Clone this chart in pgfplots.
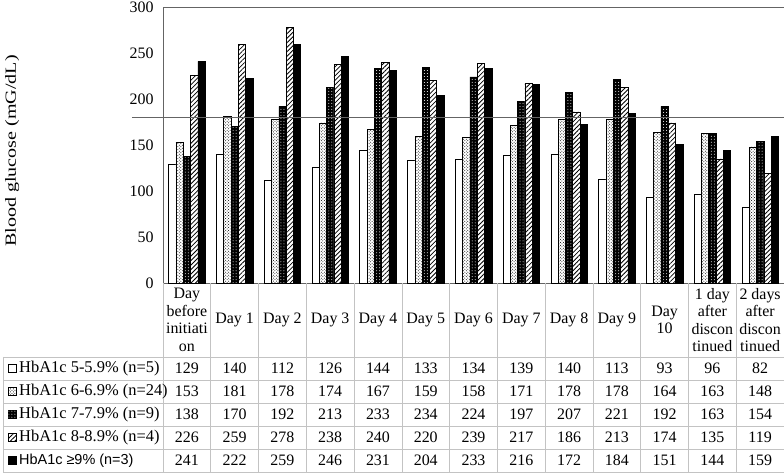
\documentclass[border=0pt]{standalone}
\usepackage{pgfplots}
\pgfplotsset{compat=1.18}
\usepackage{pgfplotstable}
\usetikzlibrary{patterns,patterns.meta}
\usepackage{fontspec}
\setmainfont{Liberation Serif}
\newfontfamily\arialf{Liberation Sans}
\definecolor{tblgray}{RGB}{195,195,195}
\definecolor{axgray}{RGB}{100,100,100}

\pgfplotstableread{
x a b c d e
0 129 153 138 226 241
1 140 181 170 259 222
2 112 178 192 278 259
3 126 174 213 238 246
4 144 167 233 240 231
5 133 159 234 220 204
6 134 158 224 239 233
7 139 171 197 217 216
8 140 178 207 186 172
9 113 178 221 213 184
10 93 164 192 174 151
11 96 163 163 135 144
12 82 148 154 119 159
}\glucose

\tikzset{
 s1/.style={draw=black, line width=0.5pt, fill=white},
 s2/.style={draw=black, line width=0.5pt, fill=white, postaction={pattern=crosshatch dots}},
 s3/.style={draw=black, line width=0.5pt, fill=black, postaction={pattern=dots, pattern color=white}},
 s4/.style={draw=black, line width=0.5pt, fill=white, postaction={pattern={Lines[angle=45, distance=3.2pt, line width=0.8pt]}}},
 s5/.style={draw=black, line width=0.5pt, fill=black},
}

\begin{document}
\begin{tikzpicture}[x=1bp,y=1bp,font=\fontsize{16}{17.5}\selectfont]
\useasboundingbox (0,0) rectangle (784,474);
\begin{axis}[
 at={(163bp,191bp)}, anchor=south west,
 scale only axis, width=621bp, height=276bp,
 xmin=-0.5, xmax=12.5, ymin=0, ymax=300,
 ytick={0,50,...,300},
 xtick=\empty,
 minor xtick={0.5,1.5,...,11.5},
 xminorgrids, minor grid style={axgray, line width=0.6pt},
 major tick length=0pt, minor tick length=0pt,
 axis line style={axgray, line width=0.8pt},
 bar width=0.153,
 clip=false,
 /pgf/number format/assume math mode=true,
 ticklabel style={font=\fontsize{16}{17.5}\selectfont},
 yticklabel style={xshift=-6bp},
 ylabel={\scalebox{1.3}[1]{Blood glucose (mG/dL)}},
 every axis y label/.style={at={(axis description cs:-0.243,0.478)}, rotate=90, anchor=center, font=\fontsize{15.5}{18}\selectfont},
]
\addplot[s1, ybar, bar shift=-0.306] table[x=x,y=a]{\glucose};
\addplot[s2, ybar, bar shift=-0.153] table[x=x,y=b]{\glucose};
\addplot[s3, ybar, bar shift=0] table[x=x,y=c]{\glucose};
\addplot[s4, ybar, bar shift=0.153] table[x=x,y=d]{\glucose};
\addplot[s5, ybar, bar shift=0.306] table[x=x,y=e]{\glucose};
\addplot[sharp plot, axgray, line width=0.8pt, mark=none] coordinates {(-1.15,180) (12.5,180)};
\end{axis}
% table grid
\begin{scope}[tblgray, line width=0.6pt]
\foreach \yy in {117,94,71,48,25,2} { \draw (3,\yy) -- (784,\yy); }
\foreach \k in {1,...,13} { \draw ({163+47.769*\k},191) -- ({163+47.769*\k},2); }
\draw (163,191) -- (163,2);
\draw (3,117) -- (3,2);
\end{scope}
% header
\foreach \lab [count=\i from 0] in {Day\\before\\initiati\\on, Day 1, Day 2, Day 3, Day 4, Day 5, Day 6, Day 7, Day 8, Day 9, Day\\10, 1 day\\after\\discon\\tinued, 2 days\\after\\discon\\tinued} {
  \node[align=center, inner sep=0pt] at ({163+47.769*(\i+0.5)},154) {\lab};
}
% values
\foreach \c/\r in {a/105.5, b/82.5, c/59.5, d/36.5, e/13.5} {
  \foreach \i in {0,...,12} {
    \pgfplotstablegetelem{\i}{\c}\of\glucose
    \node[inner sep=0pt] at ({163+47.769*(\i+0.5)},\r) {\pgfplotsretval};
  }
}
% row labels
\begin{scope}[font=\fontsize{16.5}{18}\selectfont]
\draw[s1] (8.5,101.5) rectangle (16.5,109.5);
\node[anchor=west, inner sep=0pt] at (19,105.5) {HbA1c 5-5.9\% (n=5)};
\draw[s2] (8.5,78.5) rectangle (16.5,86.5);
\node[anchor=west, inner sep=0pt] at (19,82.5) {HbA1c 6-6.9\% (n=24)};
\draw[s3] (8.5,55.5) rectangle (16.5,63.5);
\node[anchor=west, inner sep=0pt] at (19,59.5) {HbA1c 7-7.9\% (n=9)};
\draw[s4] (8.5,32.5) rectangle (16.5,40.5);
\node[anchor=west, inner sep=0pt] at (19,36.5) {HbA1c 8-8.9\% (n=4)};
\draw[s5] (8.5,9.5) rectangle (16.5,17.5);
\node[anchor=west, inner sep=0pt] at (19,13.5) {\arialf\fontsize{14.5}{16}\selectfont HbA1c ≥9\% (n=3)};
\end{scope}
\end{tikzpicture}
\end{document}
